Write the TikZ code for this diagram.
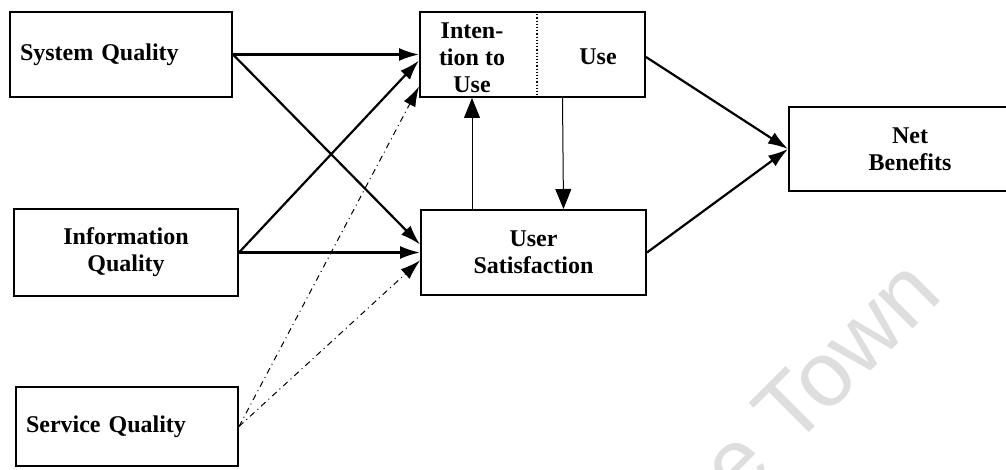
\documentclass[tikz,border=0pt]{standalone}
\usepackage{fontspec}
\setmainfont{Liberation Serif}
\newfontfamily\stampfont{Liberation Sans}
\usetikzlibrary{arrows.meta,calc}
\tikzstyle{box}=[draw,rectangle,line width=1pt,minimum width=111pt,minimum height=42.5pt,inner sep=5pt,font=\fontsize{12}{13.5}\selectfont\bfseries,align=center]
\tikzstyle{lbl}=[font=\fontsize{12}{13.5}\selectfont\bfseries,align=center,inner sep=1pt]
\tikzstyle{edge} = [draw,line width=1.1pt,-{Latex[length=10pt,width=6.5pt]}]
\tikzstyle{dotedge} = [draw,line width=0.5pt,dash dot,-{Latex[length=10pt,width=6.5pt]}]
\tikzstyle{thinedge} = [draw,line width=0.5pt,-{Triangle[length=10pt,width=8pt]}]
\tikzstyle{stamp} = [text=black!13,font=\stampfont\fontsize{46}{46}\selectfont,inner sep=0pt]

\begin{document}
\begin{tikzpicture}[x=0.5pt,y=-0.5pt]
    \useasboundingbox (0,0) rectangle (1006,470);
    \clip (0,0) rectangle (1006,470);
    \fill[white] (0,0) rectangle (1006,470);

    % watermark
    \node[stamp,rotate=45,anchor=base east] (town) at (945,297) {e Town};

    % boxes
    \node[box,text width=101pt,align=left] (sq) at (121,54.5) {System Quality};
    \node[box,minimum width=112pt,minimum height=43.5pt] (iq) at (126,252.5) {Information\\Quality};
    \node[box,text width=101pt,align=left,minimum height=39.5pt] (svq) at (127,426.5) {Service Quality};
    \node[box,minimum width=112.5pt] (iu) at (532.5,54.5) {};
    \node[lbl] (intent) at (472,58) {Inten-\\tion to\\Use};
    \node[lbl] (use) at (598,57) {Use};
    \node[box,minimum width=112.5pt] (us) at (533.5,252.5) {User\\Satisfaction};
    \node[box,minimum width=121pt,minimum height=42pt] (nb) at (910,149) {Net\\Benefits};
    \draw[densely dotted,line width=0.6pt] (iu.north -| 537,0) -- (iu.south -| 537,0);

    % quality -> intention/use and satisfaction
    \foreach \source/\dest/\shift in {sq/iu/0, sq/us/4, iq/iu/-3, iq/us/0}
        \path[edge] (\source.east) -- ([yshift=\shift pt]\dest.west);
    \foreach \dest/\shift in {iu/-16, us/-4}
        \path[dotedge] (svq.east) -- ([yshift=\shift pt]\dest.west);

    % feedback between use and satisfaction
    \path[thinedge] (us.north -| intent) -- (iu.south -| intent);
    \path[thinedge] ([xshift=15pt]iu.south) -- ([xshift=15pt]us.north);

    % net benefits
    \path[edge] (use.east -| iu.east) -- (nb.west);
    \path[edge] (us.east) -- (nb.west);
\end{tikzpicture}
\end{document}
